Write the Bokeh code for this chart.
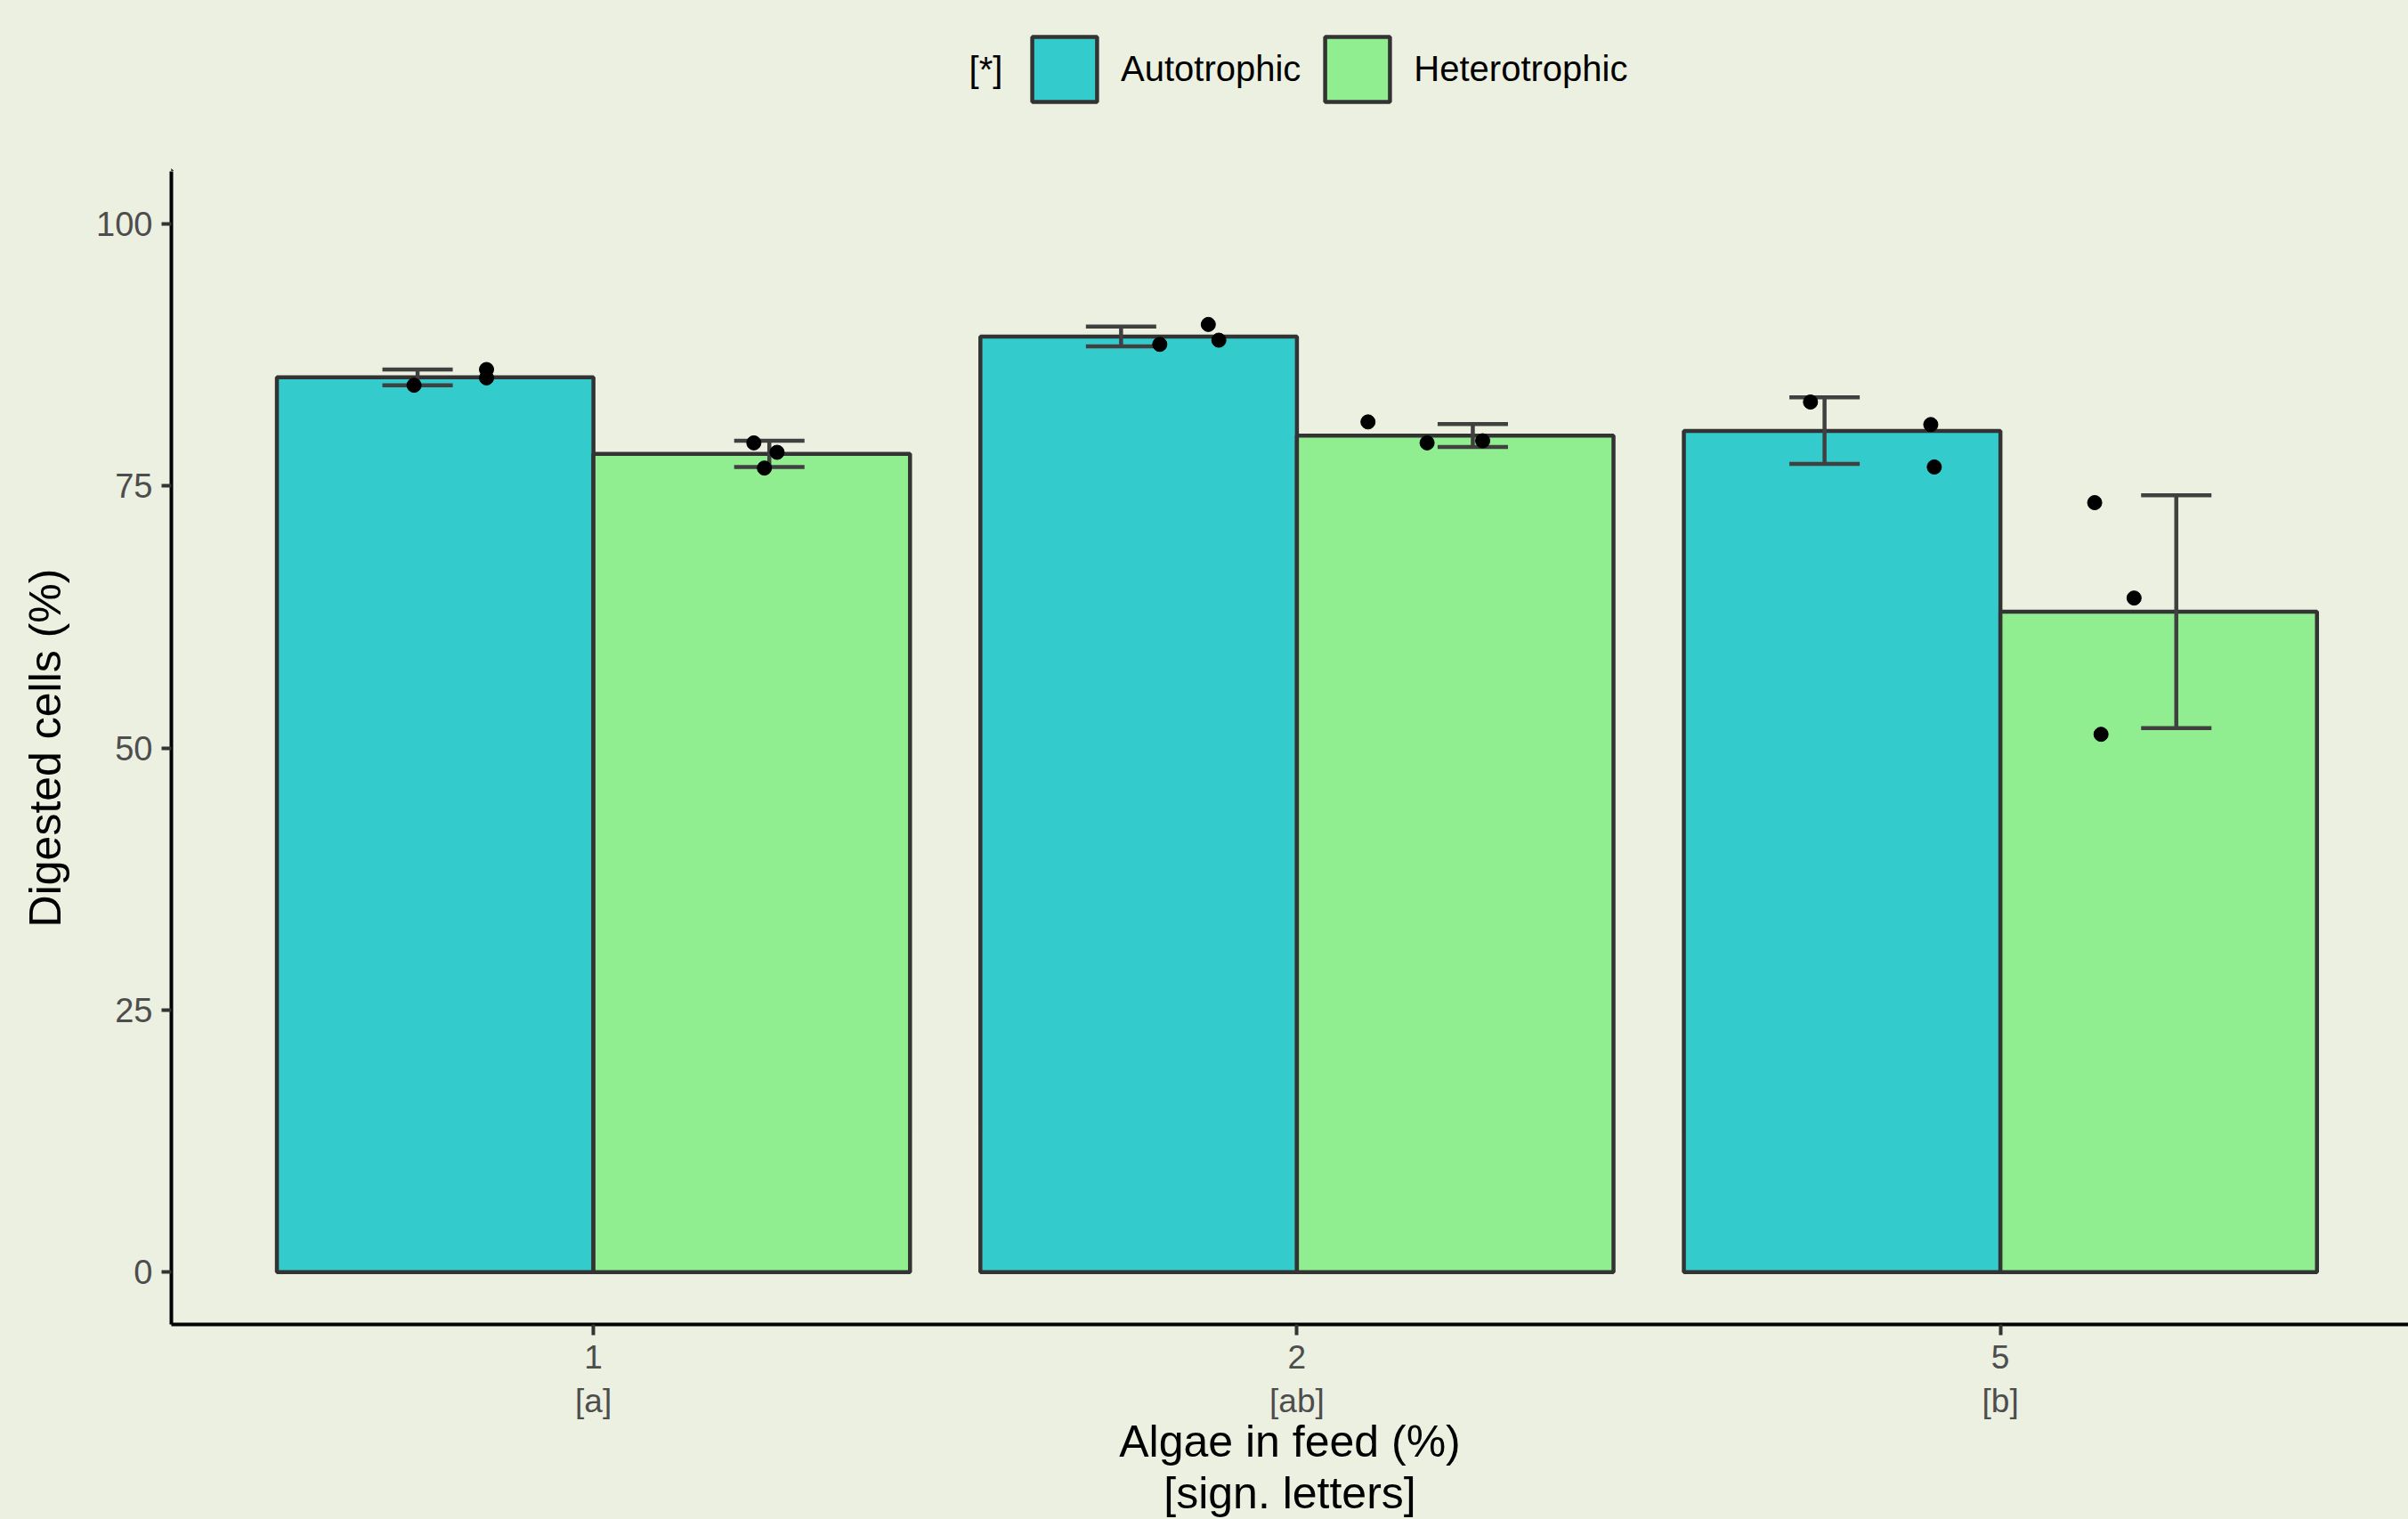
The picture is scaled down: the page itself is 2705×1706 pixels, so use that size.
from bokeh.plotting import figure
from bokeh.layouts import column
from bokeh.models import Range1d, FixedTicker, Legend, LegendItem, Label, Title
from bokeh.embed import file_html
from bokeh.resources import INLINE

# Feed levels (% algae) and their significance letters
feed_levels = ["1", "2", "5"]
sign_letters = ["a", "ab", "b"]
groups = ["Autotrophic", "Heterotrophic"]
legend_title = "[*]"

# Group means and error bar limits (digested cells, %)
auto_mean = [85.35, 89.25, 80.25]
auto_low = [84.6, 88.3, 77.1]
auto_high = [86.1, 90.2, 83.45]
hetero_mean = [78.05, 79.8, 63.0]
hetero_low = [76.8, 78.7, 51.9]
hetero_high = [79.3, 80.9, 74.1]

# Replicate observations and the horizontal jitter they were plotted at
auto_obs = [[84.6, 86.1, 85.3], [88.5, 90.4, 88.9], [83.0, 80.85, 76.8]]
auto_jitter = [[-0.255, -0.152, -0.152], [-0.195, -0.126, -0.111], [-0.270, -0.099, -0.094]]
hetero_obs = [[79.1, 78.2, 76.7], [81.1, 79.1, 79.3], [73.4, 64.3, 51.3]]
hetero_jitter = [[0.228, 0.261, 0.243], [0.101, 0.185, 0.264], [0.134, 0.190, 0.143]]

fill_colors = ["#33CBCB", "#90EE90"]
BG = "#ECF0E0"
FONT = "Liberation Sans"
OUTLINE = "#333333"
ERR_COLOR = "#404040"

BAR_DODGE = 0.225
BAR_WIDTH = 0.45
ERR_DODGE = 0.25
CAP = 0.05

W = 2705
LEFT = 192
LEGEND_H = 192
pos = [i + 1 for i in range(len(feed_levels))]

# ---- main plot -------------------------------------------------------------
p = figure(width=W, height=1706 - LEGEND_H,
           x_range=Range1d(0.4, 3.58), y_range=Range1d(-5, 105),
           output_backend="svg", toolbar_location=None,
           min_border_left=LEFT, min_border_right=0,
           min_border_top=0, min_border_bottom=219)
p.background_fill_color = BG
p.border_fill_color = BG
p.outline_line_color = None
p.xgrid.visible = False
p.ygrid.visible = False

series = [
    (auto_mean, auto_low, auto_high, auto_obs, auto_jitter, -1),
    (hetero_mean, hetero_low, hetero_high, hetero_obs, hetero_jitter, 1),
]

for k, (mean, low, high, obs, jit, side) in enumerate(series):
    bx = [x + side * BAR_DODGE for x in pos]
    p.vbar(x=bx, top=mean, bottom=0, width=BAR_WIDTH,
           fill_color=fill_colors[k], line_color=OUTLINE, line_width=4.5)

for k, (mean, low, high, obs, jit, side) in enumerate(series):
    ex = [x + side * ERR_DODGE for x in pos]
    p.segment(x0=ex, y0=low, x1=ex, y1=high, line_color=ERR_COLOR, line_width=4.5)
    p.segment(x0=[x - CAP for x in ex], y0=low, x1=[x + CAP for x in ex], y1=low,
              line_color=ERR_COLOR, line_width=4.5)
    p.segment(x0=[x - CAP for x in ex], y0=high, x1=[x + CAP for x in ex], y1=high,
              line_color=ERR_COLOR, line_width=4.5)

for k, (mean, low, high, obs, jit, side) in enumerate(series):
    px, py = [], []
    for i, x in enumerate(pos):
        for v, j in zip(obs[i], jit[i]):
            px.append(x + j)
            py.append(v)
    p.scatter(x=px, y=py, size=16, fill_color="black", line_color="black")

for ax in (p.xaxis[0], p.yaxis[0]):
    ax.axis_line_color = "black"
    ax.axis_line_width = 4
    ax.major_tick_line_color = "#333333"
    ax.major_tick_line_width = 4
    ax.major_tick_in = 0
    ax.minor_tick_line_color = None
    ax.major_label_text_font = FONT
    ax.major_label_text_color = "#4D4D4D"
    ax.axis_label_text_font = FONT
    ax.axis_label_text_font_style = "normal"
    ax.axis_label_text_color = "black"

p.yaxis.ticker = FixedTicker(ticks=[0, 25, 50, 75, 100])
p.yaxis.major_tick_out = 11
p.yaxis.major_label_standoff = 10
p.yaxis.major_label_text_font_size = "38px"
p.yaxis.axis_label = "Digested cells (%)"
p.yaxis.axis_label_text_font_size = "50px"
p.yaxis.axis_label_standoff = 26

p.xaxis.ticker = FixedTicker(ticks=pos)
p.xaxis.major_label_overrides = {x: f"{lvl}\n[{let}]" for x, lvl, let in zip(pos, feed_levels, sign_letters)}
p.xaxis.major_tick_out = 12
p.xaxis.major_label_standoff = 4
p.xaxis.major_label_text_font_size = "37px"
p.xaxis.axis_label = "Algae in feed (%)"
p.xaxis.axis_label_text_font_size = "50px"
p.xaxis.axis_label_standoff = -6

# second line of the x-axis title
p.add_layout(Title(text="[sign. letters]", align="center", text_font=FONT,
                   text_font_size="50px", text_font_style="normal", text_color="black",
                   standoff=-6, offset=0), "below")

# ---- legend strip above the plot --------------------------------------------
# the strip shares the plot's left border, so its data x equals page pixels
lg = figure(width=W, height=LEGEND_H, x_range=Range1d(LEFT, W), y_range=Range1d(0, LEGEND_H),
            output_backend="svg", toolbar_location=None,
            x_axis_location=None, y_axis_location=None,
            min_border_left=LEFT, min_border_right=0, min_border_top=0, min_border_bottom=0)
lg.background_fill_color = BG
lg.border_fill_color = BG
lg.border_fill_alpha = 1.0
lg.outline_line_color = None
lg.xgrid.visible = False
lg.ygrid.visible = False
lg.styles = {"background-color": BG}

# key glyphs styled like the bars; their single bar sits outside the visible range
keys = [lg.vbar(x=[-1000], top=[1], width=1, fill_color=c, line_color=OUTLINE, line_width=4.5)
        for c in fill_colors]

legend = Legend(
    items=[LegendItem(label=g, renderers=[r], index=0) for g, r in zip(groups, keys)],
    orientation="horizontal", location=(1150 - LEFT, LEGEND_H - 123),
    label_text_font=FONT, label_text_font_size="40px", label_text_color="black",
    glyph_width=91, glyph_height=91, label_standoff=18, spacing=18,
    padding=0, margin=0,
    background_fill_alpha=0, border_line_alpha=0,
)
lg.add_layout(legend, "center")

lg.add_layout(Label(x=1107, y=LEGEND_H - 77, text=legend_title,
                    text_font=FONT, text_font_size="40px", text_color="black",
                    text_align="center", text_baseline="middle"))

layout = column(lg, p, spacing=0)
layout.styles = {"background-color": BG}
open("out.html", "w").write(file_html(layout, INLINE))
